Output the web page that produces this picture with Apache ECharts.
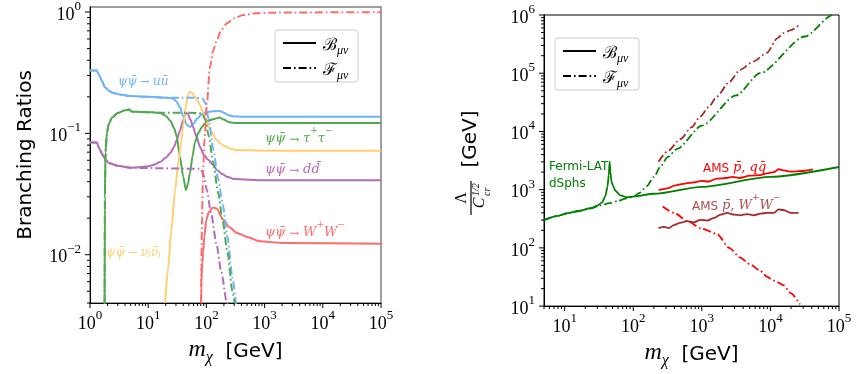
<!DOCTYPE html>
<html>
<head>
<meta charset="utf-8">
<script src="https://cdn.jsdelivr.net/npm/echarts@6/dist/echarts.min.js"></script>
<style>
  html, body { margin: 0; padding: 0; background: #fff; }
  #chart { width: 856px; height: 374px; }
</style>
</head>
<body>
<div id="chart"></div>
<script>
// ---------- Left panel: branching ratios vs dark-matter mass ----------
const uB_m = [1, 1.3, 1.45, 1.6, 1.8, 2.1, 2.5, 3.5, 5, 10, 20, 26, 30, 35, 40, 46, 52, 60, 70, 85, 100, 130, 170, 200, 240, 300, 400, 1000, 1e5];
const uB_v = [0.33, 0.33, 0.30, 0.27, 0.24, 0.225, 0.215, 0.208, 0.203, 0.200, 0.197, 0.195, 0.185, 0.165, 0.138, 0.118, 0.113, 0.120, 0.133, 0.145, 0.150, 0.152, 0.153, 0.148, 0.141, 0.138, 0.137, 0.137, 0.137];
const uF_m = [1, 1.3, 1.45, 1.6, 1.8, 2.1, 2.5, 3.5, 5, 10, 20, 50, 85, 95, 110, 130, 160, 190, 230, 280, 330, 400];
const uF_v = [0.33, 0.33, 0.30, 0.27, 0.24, 0.225, 0.215, 0.208, 0.203, 0.200, 0.197, 0.197, 0.195, 0.18, 0.13, 0.075, 0.042, 0.026, 0.014, 0.0065, 0.0038, 0.002];

const tauB_m = [1.78, 1.8, 1.85, 1.95, 2.1, 2.4, 3, 4, 4.7, 5.3, 8, 12, 16, 20, 24, 28, 31, 35, 40, 44.5, 48, 52, 58, 63, 72, 84, 95, 106, 130, 170, 200, 240, 300, 1000, 1e5];
const tauB_v = [0.003, 0.03, 0.07, 0.1, 0.12, 0.135, 0.147, 0.155, 0.157, 0.151, 0.150, 0.149, 0.147, 0.14, 0.127, 0.11, 0.094, 0.064, 0.044, 0.034, 0.038, 0.047, 0.065, 0.083, 0.1, 0.113, 0.122, 0.127, 0.131, 0.135, 0.13, 0.124, 0.122, 0.122, 0.122];
const tauF_m = [1.78, 1.8, 1.85, 1.95, 2.1, 2.4, 3, 4, 4.7, 5.3, 8, 12, 16, 50, 85, 95, 110, 130, 160, 190, 230, 280, 330];
const tauF_v = [0.003, 0.03, 0.07, 0.1, 0.12, 0.135, 0.147, 0.155, 0.157, 0.151, 0.150, 0.149, 0.148, 0.148, 0.146, 0.13, 0.095, 0.058, 0.032, 0.019, 0.0105, 0.005, 0.0029];

const dB_m = [1, 1.3, 1.45, 1.6, 1.8, 2.1, 3, 5, 7, 10, 13, 16, 20, 24, 28, 31, 35, 40, 44.5, 48, 53, 59, 67, 78, 90, 106, 130, 152, 190, 225, 300, 1000, 1e5];
const dB_v = [0.084, 0.084, 0.075, 0.068, 0.062, 0.057, 0.054, 0.052, 0.0525, 0.0535, 0.0555, 0.058, 0.063, 0.069, 0.078, 0.088, 0.105, 0.129, 0.148, 0.145, 0.13, 0.113, 0.095, 0.077, 0.067, 0.061, 0.055, 0.05, 0.046, 0.044, 0.042, 0.041, 0.041];
const dF_m = [1, 1.3, 1.45, 1.6, 1.8, 2.1, 3, 5, 80, 90, 102, 120, 150, 180, 225, 280];
const dF_v = [0.084, 0.084, 0.075, 0.068, 0.062, 0.057, 0.054, 0.052, 0.051, 0.045, 0.034, 0.022, 0.012, 0.0072, 0.004, 0.0022];

const nuB_m = [19.5, 22, 25, 29, 33, 36, 40, 44, 48, 52, 57, 63, 69, 78, 88, 100, 115, 150, 193, 250, 320, 1000, 1e5];
const nuB_v = [0.004, 0.0078, 0.016, 0.034, 0.058, 0.078, 0.115, 0.165, 0.205, 0.22, 0.215, 0.2, 0.19, 0.17, 0.148, 0.125, 0.107, 0.088, 0.08, 0.075, 0.073, 0.072, 0.072];

const wB_m = [80.5, 82, 85, 88, 92, 100, 110, 130, 150, 193, 250, 335, 500, 830, 2000, 1e5];
const wB_v = [0.003, 0.006, 0.0085, 0.0105, 0.014, 0.0195, 0.0225, 0.0245, 0.024, 0.0195, 0.0168, 0.0151, 0.014, 0.0129, 0.0125, 0.0123];
const wF_m = [80.5, 82, 84, 87.5, 93, 102, 115, 130, 152, 180, 225, 300, 426, 700, 1230, 3000, 1e5];
const wF_v = [0.003, 0.008, 0.02, 0.047, 0.09, 0.178, 0.35, 0.48, 0.59, 0.71, 0.81, 0.89, 0.944, 0.975, 0.986, 0.993, 0.995];

// ---------- Right panel: limits on Lambda / C^(1/2) ----------
const fermiB_m = [5, 8, 11, 16, 24, 30, 35, 39, 42, 44, 45.3, 46.5, 48, 51, 55, 65, 80, 100, 200, 1000, 1e4, 1e5];
const fermiB_v = [300, 355, 394, 430, 479, 530, 600, 760, 1100, 1800, 3000, 2000, 1400, 1150, 950, 800, 740, 760, 850, 1120, 1660, 2450];
const fermiF_m = [5, 8, 11, 16, 24, 33, 45, 59, 80, 100, 126, 158, 200, 251, 316, 437, 1000, 3162, 7080, 31623, 81283, 1e5];
const fermiF_v = [300, 355, 394, 430, 479, 537, 585, 640, 710, 760, 890, 1150, 1660, 2510, 3630, 5010, 12600, 41700, 1e5, 427000, 1e6, 1.23e6];

const amsQQB_m = [234, 316, 398, 537, 708, 1000, 1259, 1660, 2239, 2818, 3548, 5012, 7080, 8913, 11220, 13183, 15850, 19953, 28184, 41687];
const amsQQB_v = [977, 1050, 1175, 1260, 1320, 1410, 1380, 1550, 1585, 1660, 1585, 1740, 1780, 1905, 2000, 2240, 2140, 2040, 2090, 2240];
const amsQQF_m = [269, 398, 617, 1000, 1660, 2512, 3631, 5012, 7080, 8913, 10965, 12590, 15488, 19953, 26915];
const amsQQF_v = [513, 398, 288, 214, 174, 100, 68, 52.5, 40.7, 32, 27.5, 25.7, 22.9, 16.6, 10.7];

const amsWWB_m = [234, 282, 331, 389, 479, 617, 759, 955, 1202, 1479, 1862, 2344, 2951, 3631, 4571, 5754, 7244, 8913, 11220, 13183, 15488, 19953, 25704];
const amsWWB_v = [219, 229, 219, 245, 269, 288, 275, 302, 295, 324, 372, 398, 372, 363, 380, 363, 389, 398, 398, 457, 447, 398, 398];
const amsWWF_m = [234, 316, 490, 708, 955, 1259, 1660, 2512, 3631, 5623, 8913, 12590, 15488, 19953, 25704];
const amsWWF_v = [3020, 4570, 7410, 11750, 18200, 26300, 39800, 70800, 114800, 158500, 223900, 398100, 489800, 549500, 660700];

// ---------- Axis ticks ----------
const leftXMajor = [1, 10, 100, 1000, 1e4, 1e5];
const leftYMajor = [0.01, 0.1, 1];
const rightXMajor = [10, 100, 1000, 1e4, 1e5];
const rightYMajor = [10, 100, 1000, 1e4, 1e5, 1e6];

const L = { xMin: 1, xMax: 1e5, yMin: 0.004, yMax: 1.1 };
const R = { xMin: 5, xMax: 1e5, yMin: 10, yMax: 1e6 };

const LC = { u: '#6db3fb', tau: '#52a852', d: '#b46cb9', nu: '#ffcf70', w: '#ff6b6b' };
const RC = { green: '#008000', red: '#ff0000', brown: '#a52a2a' };
const DASHDOT = [8, 3, 1.6, 3];

function zip(ms, vs) { return ms.map((m, i) => [m, vs[i]]); }

function lineSeries(ms, vs, color, dashed, gi, width) {
  return {
    type: 'line', xAxisIndex: gi, yAxisIndex: gi,
    data: zip(ms, vs), showSymbol: false, symbol: 'none',
    smooth: 0.25, smoothMonotone: 'x', silent: true, animation: false,
    lineStyle: { color: color, width: width || 2, type: dashed ? DASHDOT : 'solid', cap: 'butt' },
    z: 3
  };
}

// minor ticks at 2..9 x 10^k inside [lo, hi]
function minorTicks(lo, hi) {
  const out = [];
  for (let e = -4; e <= 7; e++) {
    for (let k = 2; k <= 9; k++) {
      const v = k * Math.pow(10, e);
      if (v >= lo * 0.9999 && v <= hi * 1.0001) out.push(v);
    }
  }
  return out;
}

function tickSeries(gi, dir, majors, lo, hi, refOther) {
  const data = [];
  majors.forEach(v => data.push(dir === 'x' ? [v, refOther, 2] : [refOther, v, 2]));
  minorTicks(lo, hi).forEach(v => data.push(dir === 'x' ? [v, refOther, 1] : [refOther, v, 1]));
  return {
    type: 'custom', xAxisIndex: gi, yAxisIndex: gi, silent: true, animation: false, clip: false, z: 10,
    data: data,
    renderItem: function (params, api) {
      const p = api.coord([api.value(0), api.value(1)]);
      const len = api.value(2) === 2 ? 5 : 3;
      const shape = dir === 'x'
        ? { x1: p[0], y1: p[1], x2: p[0], y2: p[1] + len }
        : { x1: p[0], y1: p[1], x2: p[0] - len, y2: p[1] };
      return { type: 'line', shape: shape, style: { stroke: '#000', lineWidth: 1 } };
    }
  };
}

const supRich = {
  b: { fontFamily: 'Liberation Serif', fontSize: 18, color: '#000', lineHeight: 24, verticalAlign: 'bottom' },
  s: { fontFamily: 'Liberation Serif', fontSize: 13, color: '#000', lineHeight: 12, verticalAlign: 'top' }
};
function powLabel(v) {
  const lg = Math.log10(v);
  const e = Math.round(lg);
  if (Math.abs(lg - e) > 1e-6) return '';
  return '{b|10}{s|' + (e < 0 ? '\u2212' + (-e) : e) + '}';
}

const mNameRich = {
  m: { fontFamily: 'Liberation Serif', fontStyle: 'italic', fontSize: 24, color: '#000', lineHeight: 28, verticalAlign: 'bottom' },
  c: { fontFamily: 'Liberation Serif', fontStyle: 'italic', fontSize: 16, color: '#000', lineHeight: 18, verticalAlign: 'bottom', padding: [0, 0, -4, 0] },
  g: { fontFamily: 'DejaVu Sans', fontSize: 20, color: '#000', lineHeight: 28, verticalAlign: 'bottom' }
};

function xAxisCfg(gi, min, max) {
  return {
    type: 'log', logBase: 10, gridIndex: gi, min: min, max: max,
    axisLine: { show: true, lineStyle: { color: '#000', width: 1 } },
    axisTick: { show: false }, minorTick: { show: false },
    splitLine: { show: false },
    axisLabel: { formatter: powLabel, rich: supRich, margin: 6, showMinLabel: true, showMaxLabel: true, hideOverlap: false },
    name: '{m|m}{c|\u03C7}{g|  [GeV]}', nameLocation: 'middle', nameGap: 30,
    nameTextStyle: { rich: mNameRich }
  };
}
function yAxisCfg(gi, min, max, name) {
  return {
    type: 'log', logBase: 10, gridIndex: gi, min: min, max: max,
    axisLine: { show: true, lineStyle: { color: '#000', width: 1 } },
    axisTick: { show: false }, minorTick: { show: false },
    splitLine: { show: false },
    axisLabel: { formatter: powLabel, rich: supRich, margin: 9, hideOverlap: false },
    name: name || '', nameLocation: 'middle', nameGap: 54, nameRotate: 90,
    nameTextStyle: { fontFamily: 'DejaVu Sans', fontSize: 20, color: '#000' }
  };
}

const series = [
  // left panel
  lineSeries(uB_m, uB_v, LC.u, false, 0),
  lineSeries(dB_m, dB_v, LC.d, false, 0),
  lineSeries(tauB_m, tauB_v, LC.tau, false, 0),
  lineSeries(nuB_m, nuB_v, LC.nu, false, 0),
  lineSeries(wB_m, wB_v, LC.w, false, 0),
  lineSeries(uF_m, uF_v, LC.u, true, 0),
  lineSeries(dF_m, dF_v, LC.d, true, 0),
  lineSeries(tauF_m, tauF_v, LC.tau, true, 0),
  lineSeries(wF_m, wF_v, LC.w, true, 0),
  // right panel
  lineSeries(fermiB_m, fermiB_v, RC.green, false, 1, 1.8),
  lineSeries(fermiF_m, fermiF_v, RC.green, true, 1, 1.8),
  lineSeries(amsQQB_m, amsQQB_v, RC.red, false, 1, 1.8),
  lineSeries(amsQQF_m, amsQQF_v, RC.red, true, 1, 1.8),
  lineSeries(amsWWB_m, amsWWB_v, RC.brown, false, 1, 1.8),
  lineSeries(amsWWF_m, amsWWF_v, RC.brown, true, 1, 1.8),
  // ticks
  tickSeries(0, 'x', leftXMajor, L.xMin, L.xMax, L.yMin),
  tickSeries(0, 'y', leftYMajor, L.yMin, L.yMax, L.xMin),
  tickSeries(1, 'x', rightXMajor, R.xMin, R.xMax, R.yMin),
  tickSeries(1, 'y', rightYMajor, R.yMin, R.yMax, R.xMin)
];

// ---------- Annotations & legends ----------
function rs(o) { o.fill = o.color; return o; }
const labelRich = (color, size) => ({
  t: rs({ fontFamily: 'DejaVu Serif', fontStyle: 'italic', fontSize: size, color: color, lineHeight: size + 6, verticalAlign: 'bottom' }),
  a: rs({ fontFamily: 'DejaVu Serif', fontSize: size - 1, color: color, lineHeight: size + 6, verticalAlign: 'bottom' }),
  p: rs({ fontFamily: 'DejaVu Serif', fontSize: size - 4, color: color, lineHeight: size + 3, verticalAlign: 'top' }),
  s: rs({ fontFamily: 'DejaVu Serif', fontStyle: 'italic', fontSize: size - 4, color: color, lineHeight: size + 2, verticalAlign: 'bottom' }),
  n: rs({ fontFamily: 'DejaVu Sans', fontSize: size - 1, color: color, lineHeight: size + 6, verticalAlign: 'bottom' })
});
const PSI = '\u03C8\u03C8\u0304';
function richText(x, y, text, color, size, align) {
  return {
    type: 'text', x: x, y: y, silent: true, z: 20,
    style: { text: text, fill: color, rich: labelRich(color, size), align: align || 'left', verticalAlign: 'middle' }
  };
}

function legendBox(x, y, w, h) {
  const lx = x + 8, lw = 33;
  const legRich = {
    c: rs({ fontFamily: 'DejaVu Serif', fontSize: 17, color: '#000', lineHeight: 22, verticalAlign: 'bottom' }),
    s: rs({ fontFamily: 'Liberation Serif', fontStyle: 'italic', fontSize: 12, color: '#000', lineHeight: 16, verticalAlign: 'bottom', padding: [0, 0, -3, 0] })
  };
  return [
    { type: 'rect', shape: { x: x, y: y, width: w, height: h, r: 3 }, style: { fill: 'rgba(255,255,255,0.85)', stroke: '#cccccc', lineWidth: 1 }, z: 15, silent: true },
    { type: 'line', shape: { x1: lx, y1: y + 13, x2: lx + lw, y2: y + 13 }, style: { stroke: '#000', lineWidth: 2 }, z: 16, silent: true },
    { type: 'line', shape: { x1: lx, y1: y + 38, x2: lx + lw, y2: y + 38 }, style: { stroke: '#000', lineWidth: 2, lineDash: DASHDOT }, z: 16, silent: true },
    { type: 'text', x: lx + lw + 7, y: y + 13, z: 16, silent: true, style: { text: '{c|\u212C}{s|\u03BC\u03BD}', rich: legRich, verticalAlign: 'middle' } },
    { type: 'text', x: lx + lw + 7, y: y + 38, z: 16, silent: true, style: { text: '{c|\u2131}{s|\u03BC\u03BD}', rich: legRich, verticalAlign: 'middle' } }
  ];
}

const graphics = [].concat(
  legendBox(275, 30, 83, 52),
  legendBox(555, 38, 84, 52),
  [
    richText(118, 79, '{t|' + PSI + '}{a| \u2192 }{t|uu\u0304}', LC.u, 12),
    richText(265, 136, '{t|' + PSI + '}{a| \u2192 }{t|\u03C4}{p|+}{t|\u03C4}{p|\u2212}', LC.tau, 13),
    richText(265, 167, '{t|' + PSI + '}{a| \u2192 }{t|dd\u0304}', LC.d, 13),
    richText(265, 230, '{t|' + PSI + '}{a| \u2192 }{t|W}{p|+}{t|W}{p|\u2212}', LC.w, 13),
    richText(106, 250, '{t|' + PSI + '}{a| \u2192 }{t|\u03BD}{s|l}{t|\u03BD\u0304}{s|l}', LC.nu, 12),
    richText(549, 163, '{n|Fermi-LAT}', RC.green, 13),
    richText(549, 180, '{n|dSphs}', RC.green, 13),
    richText(703, 165, '{n|AMS }{t|p\u0304, qq\u0304}', RC.red, 13),
    richText(692, 203, '{n|AMS }{t|p\u0304, W}{p|+}{t|W}{p|\u2212}', '#b24d4d', 13),
    // rotated fraction label of the right y axis
    {
      type: 'group', x: 471, y: 198, rotation: Math.PI / 2, silent: true, z: 20,
      children: [
        { type: 'text', x: 0, y: -1, style: { text: '\u039B', fontFamily: 'Liberation Serif', fontSize: 16, fill: '#000', align: 'center', verticalAlign: 'bottom' } },
        { type: 'line', shape: { x1: -17, y1: 0, x2: 17, y2: 0 }, style: { stroke: '#000', lineWidth: 1.2 } },
        { type: 'text', x: -5, y: 1, style: { text: 'C', fontFamily: 'Liberation Serif', fontStyle: 'italic', fontSize: 16, fill: '#000', align: 'center', verticalAlign: 'top' } },
        { type: 'text', x: 2, y: 0, style: { text: '1/2', fontFamily: 'Liberation Serif', fontStyle: 'italic', fontSize: 10, fill: '#000', align: 'left', verticalAlign: 'top' } },
        { type: 'text', x: 2, y: 11, style: { text: 'cr', fontFamily: 'Liberation Serif', fontStyle: 'italic', fontSize: 10, fill: '#000', align: 'left', verticalAlign: 'top' } },
        { type: 'text', x: 59, y: 0, style: { text: '[GeV]', fontFamily: 'DejaVu Sans', fontSize: 20, fill: '#000', align: 'center', verticalAlign: 'middle' } }
      ]
    }
  ]
);

const chart = echarts.init(document.getElementById('chart'), null, { renderer: 'canvas' });
chart.setOption({
  animation: false,
  backgroundColor: '#fff',
  grid: [
    { left: 90, top: 7, width: 291, height: 296, show: true, borderColor: '#808080', borderWidth: 1.5, backgroundColor: 'transparent' },
    { left: 544, top: 15, width: 295, height: 294, show: true, borderColor: '#000', borderWidth: 1, backgroundColor: 'transparent' }
  ],
  xAxis: [xAxisCfg(0, L.xMin, L.xMax), xAxisCfg(1, R.xMin, R.xMax)],
  yAxis: [yAxisCfg(0, L.yMin, L.yMax, 'Branching Ratios'), yAxisCfg(1, R.yMin, R.yMax, '')],
  series: series,
  graphic: graphics
});
</script>
</body>
</html>
